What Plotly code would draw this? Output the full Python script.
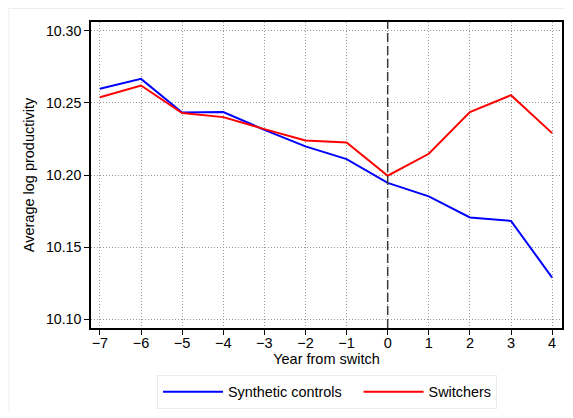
import plotly.graph_objects as go

years = [-7, -6, -5, -4, -3, -2, -1, 0, 1, 2, 3, 4]
synthetic = [10.2597, 10.2666, 10.2433, 10.2436, 10.2313, 10.2198, 10.2110, 10.1945, 10.1852, 10.1706, 10.1682, 10.1289]
switchers = [10.2539, 10.2620, 10.2429, 10.2401, 10.2318, 10.2239, 10.2225, 10.1995, 10.2147, 10.2436, 10.2553, 10.2290]
x_ticks = [-7, -6, -5, -4, -3, -2, -1, 0, 1, 2, 3, 4]
x_tick_text = ["\u22127", "\u22126", "\u22125", "\u22124", "\u22123", "\u22122", "\u22121", "0", "1", "2", "3", "4"]
y_ticks = [10.10, 10.15, 10.20, 10.25, 10.30]
y_tick_text = ["10.10", "10.15", "10.20", "10.25", "10.30"]

# page has an 8px body margin; figure sized to fit inside the window
W, H = 557, 402
ml, mr, mt, mb = 83, 1, 14, 81
pw, ph = W - ml - mr, H - mt - mb

fig = go.Figure()
fig.add_trace(go.Scatter(x=years, y=synthetic, mode="lines", name="Synthetic controls\u00a0\u00a0\u00a0",
                         line=dict(color="#0000ff", width=2)))
fig.add_trace(go.Scatter(x=years, y=switchers, mode="lines", name="Switchers",
                         line=dict(color="#ff0000", width=2)))

fig.add_vline(x=0, line=dict(color="#3a3a3a", width=1.5, dash="9px,4px"), layer="above")

# faint outer frame of graph region
fig.add_shape(type="rect", xref="paper", yref="paper",
              x0=(0.5 - ml) / pw, x1=(W + 10 - ml) / pw,
              y0=-(H + 10 - mt - ph) / ph, y1=(H - 0.5 - mb) / ph,
              line=dict(color="#eceff1", width=1), fillcolor="rgba(0,0,0,0)", layer="below")

font = "Liberation Sans, Arial, sans-serif"
fig.update_layout(
    width=W, height=H,
    margin=dict(l=ml, r=mr, t=mt, b=mb),
    paper_bgcolor="white", plot_bgcolor="white",
    font=dict(family=font, size=14.4, color="black"),
    showlegend=True,
    legend=dict(orientation="h", x=(328 - 8 - ml) / pw, xanchor="center", y=-0.153, yanchor="top",
                bordercolor="#e4ecef", borderwidth=1, font=dict(size=14.4, color="black"),
                itemwidth=60, bgcolor="white"),
    xaxis=dict(range=[-7.217, 4.24], tickvals=x_ticks, ticktext=x_tick_text,
               showline=True, linecolor="black", linewidth=1.5, mirror=True,
               ticks="outside", ticklen=5, tickcolor="black", tickwidth=1,
               showgrid=True, gridcolor="#999999", gridwidth=1, griddash="1px,2px",
               zeroline=False, tickfont=dict(size=14.5), ticklabelstandoff=-4,
               title=dict(text="Year from switch", font=dict(size=14.5), standoff=2)),
    yaxis=dict(range=[10.094, 10.306], tickvals=y_ticks, ticktext=y_tick_text,
               showline=True, linecolor="black", linewidth=1.5, mirror=True,
               ticks="outside", ticklen=5, tickcolor="black", tickwidth=1,
               showgrid=True, gridcolor="#999999", gridwidth=1, griddash="1px,2px",
               zeroline=False, tickfont=dict(size=14.2),
               title=dict(text="Average log productivity", font=dict(size=14.5), standoff=8)),
)

fig.write_html("out.html")
